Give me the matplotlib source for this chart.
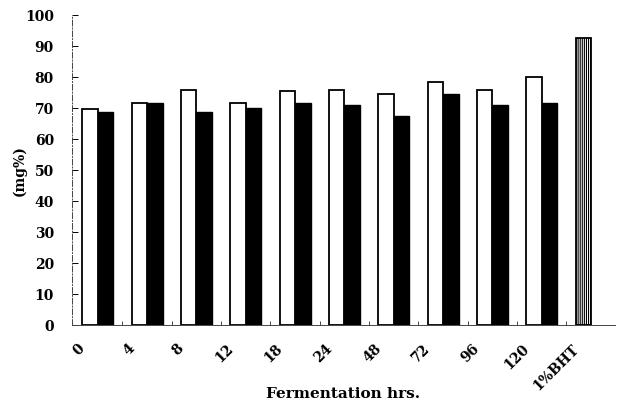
#!/usr/bin/env python3
import numpy as np
import matplotlib as mpl
import matplotlib.pyplot as plt
from matplotlib.transforms import ScaledTranslation

categories = ['0', '4', '8', '12', '18', '24', '48', '72', '96', '120', '1%BHT']
white_vals = [69.7, 71.7, 75.7, 71.7, 75.4, 75.8, 74.6, 78.3, 75.8, 79.9, 92.7]
black_vals = [68.8, 71.7, 68.8, 70.1, 71.8, 71.1, 67.6, 74.4, 71.1, 71.8, 0]

mpl.rcParams['font.family'] = 'DejaVu Serif'
mpl.rcParams['font.weight'] = 'bold'
mpl.rcParams['hatch.color'] = '#555555'
mpl.rcParams['hatch.linewidth'] = 0.8

fig = plt.figure(figsize=(6.21, 4.09), dpi=100)
ax = fig.add_axes([0.116, 0.205, 0.874, 0.758])

x = np.arange(len(categories))
w = 0.314

wbars = ax.bar(x - w / 2, white_vals, w, color='white', edgecolor='black', linewidth=1.3)
ax.bar(x[:-1] + w / 2, black_vals[:-1], w, color='black', edgecolor='black', linewidth=1.0)

# the BHT reference bar gets a vertical-line fill
wbars[-1].set_hatch('||||||||')

ax.set_xlim(-0.52, 10.48)
ax.set_ylim(0, 100)
ax.set_yticks(range(0, 101, 10))

for side in ('top', 'right'):
    ax.spines[side].set_visible(False)
ax.spines['left'].set_linestyle((0, (6, 2, 1, 2)))
ax.spines['left'].set_linewidth(0.7)
ax.spines['left'].set_color('#444444')
ax.spines['bottom'].set_linewidth(0.7)
ax.spines['bottom'].set_color('#444444')

ax.tick_params(axis='y', direction='in', length=4, width=0.7, pad=13, labelsize=10)
ax.set_xticks(x)
ax.set_xticks(x[:-1] + 0.5, minor=True)
ax.tick_params(axis='x', which='major', length=0, pad=12)
ax.tick_params(axis='x', which='minor', direction='in', length=3, width=0.7, color='#444444')

ax.set_xticklabels(categories, rotation=45, ha='right', fontsize=10)
offset = ScaledTranslation(-10 / 100, 0, fig.dpi_scale_trans)
for lbl in ax.get_xticklabels():
    lbl.set_transform(lbl.get_transform() + offset)

ax.set_ylabel('(mg%)', fontsize=10, fontweight='bold')
ax.yaxis.set_label_coords(-0.083, 0.5)
ax.set_xlabel('Fermentation hrs.', fontsize=11, fontweight='bold')
ax.xaxis.set_label_coords(0.5, -0.2)

plt.savefig('out.png', dpi=100)
